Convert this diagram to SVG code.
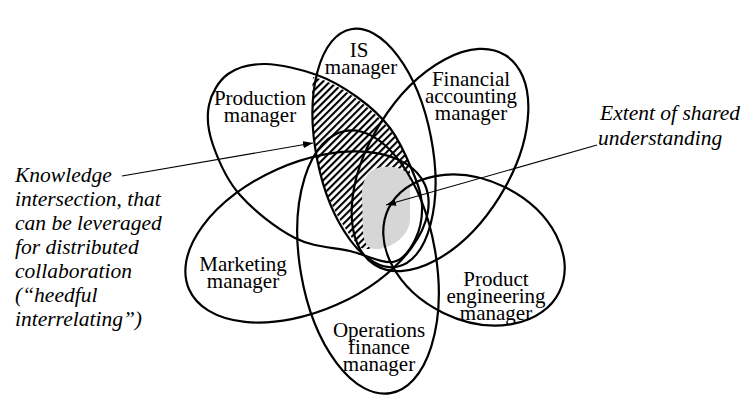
<svg xmlns="http://www.w3.org/2000/svg" width="750" height="405" viewBox="0 0 750 405">
<style>
.petal{fill:none;stroke:#000;stroke-width:2.2}
.lbl{font-family:"Liberation Serif","Times New Roman",serif;font-size:21px;fill:#000;text-anchor:middle}
.note{font-family:"Liberation Serif","Times New Roman",serif;font-size:21.5px;font-style:italic;fill:#000}
.conn{fill:none;stroke:#000;stroke-width:1.1}
</style>
<defs>
<pattern id="hatch" patternUnits="userSpaceOnUse" width="5" height="5" patternTransform="rotate(45)">
<rect x="0" y="0" width="2.1" height="5" fill="#000"/>
</pattern>
<marker id="ah" viewBox="0 0 10 7" refX="10" refY="3.5" markerWidth="10" markerHeight="7" markerUnits="userSpaceOnUse" orient="auto">
<path d="M0,0 L10,3.5 L0,7 Z" fill="#000"/>
</marker>
</defs>
<rect width="750" height="405" fill="#fff"/>
<g id="shared-regions">
<path id="knowledge-intersection" d="M313,77 C335,82 362,100 383,122 C398,138 407,155 410,172 L410,215 L372,249 C366,249 362,249 360,247 C345,232 330,205 322,180 C314,155 310,115 313,77 Z" fill="url(#hatch)"/>
<path id="shared-understanding" d="M383,167 C398,166 409,170 410,180 L410,220 C409,236 392,248 378,249 C368,250 364,244 363,232 L362,195 C362,178 370,168 383,167 Z" fill="#d6d6d6"/>
</g>
<g id="is-manager">
<ellipse class="petal" cx="374" cy="148" rx="58" ry="121" transform="rotate(-11 374 148)"/>
<text class="lbl"><tspan x="359" y="57">IS</tspan><tspan x="361" y="74">manager</tspan></text>
</g>
<g id="production-manager">
<path class="petal" d="M265,64 C279.8,64.2 301.7,69.5 317,75 C332.3,80.5 344.8,88.2 357,97 C369.2,105.8 380.8,115.8 390,128 C399.2,140.2 406.7,157.2 412,170 C417.3,182.8 421.5,193.3 422,205 C422.5,216.7 419.8,230.5 415,240 C410.2,249.5 403.8,260.2 393,262 C382.2,263.8 366.3,255 350,251 C331.7,247 313.3,247.3 295,238 C275.8,228 253.7,210.5 240,195 C226.3,179.5 218.2,160 213,145 C207.8,130 206.5,116.8 209,105 C211.5,93.2 218.7,80.8 228,74 C237.3,67.2 250.2,63.8 265,64 Z"/>
<text class="lbl"><tspan x="260" y="105">Production</tspan><tspan x="260" y="122">manager</tspan></text>
</g>
<g id="financial-accounting-manager">
<ellipse class="petal" cx="440" cy="160" rx="123.5" ry="70" transform="rotate(-58 440 160)"/>
<text class="lbl"><tspan x="471" y="86">Financial</tspan><tspan x="471" y="103">accounting</tspan><tspan x="471" y="120">manager</tspan></text>
</g>
<g id="product-engineering-manager">
<ellipse class="petal" cx="474" cy="250" rx="95" ry="70" transform="rotate(26 474 250)"/>
<text class="lbl"><tspan x="496" y="286">Product</tspan><tspan x="496" y="303">engineering</tspan><tspan x="496" y="320">manager</tspan></text>
</g>
<g id="operations-finance-manager">
<ellipse class="petal" cx="368" cy="262" rx="68" ry="133" transform="rotate(-9.7 368 262)"/>
<text class="lbl"><tspan x="379" y="337">Operations</tspan><tspan x="379" y="354">finance</tspan><tspan x="379" y="371">manager</tspan></text>
</g>
<g id="marketing-manager">
<ellipse class="petal" cx="307" cy="237" rx="129" ry="74" transform="rotate(-24 307 237)"/>
<text class="lbl"><tspan x="243" y="271">Marketing</tspan><tspan x="243" y="288">manager</tspan></text>
</g>
<g id="connectors">
<line class="conn" x1="122" y1="176" x2="313" y2="143" marker-end="url(#ah)"/>
<line class="conn" x1="597" y1="145" x2="386" y2="205" marker-end="url(#ah)"/>
</g>
<g id="note-knowledge-intersection">
<text class="note"><tspan x="15" y="182">Knowledge</tspan><tspan x="15" y="206">intersection, that</tspan><tspan x="15" y="230">can be leveraged</tspan><tspan x="15" y="254">for distributed</tspan><tspan x="15" y="278">collaboration</tspan><tspan x="15" y="302">(“heedful</tspan><tspan x="15" y="326">interrelating”)</tspan></text>
</g>
<g id="note-shared-understanding">
<text class="note"><tspan x="600" y="120">Extent of shared</tspan><tspan x="598" y="145">understanding</tspan></text>
</g>
</svg>
